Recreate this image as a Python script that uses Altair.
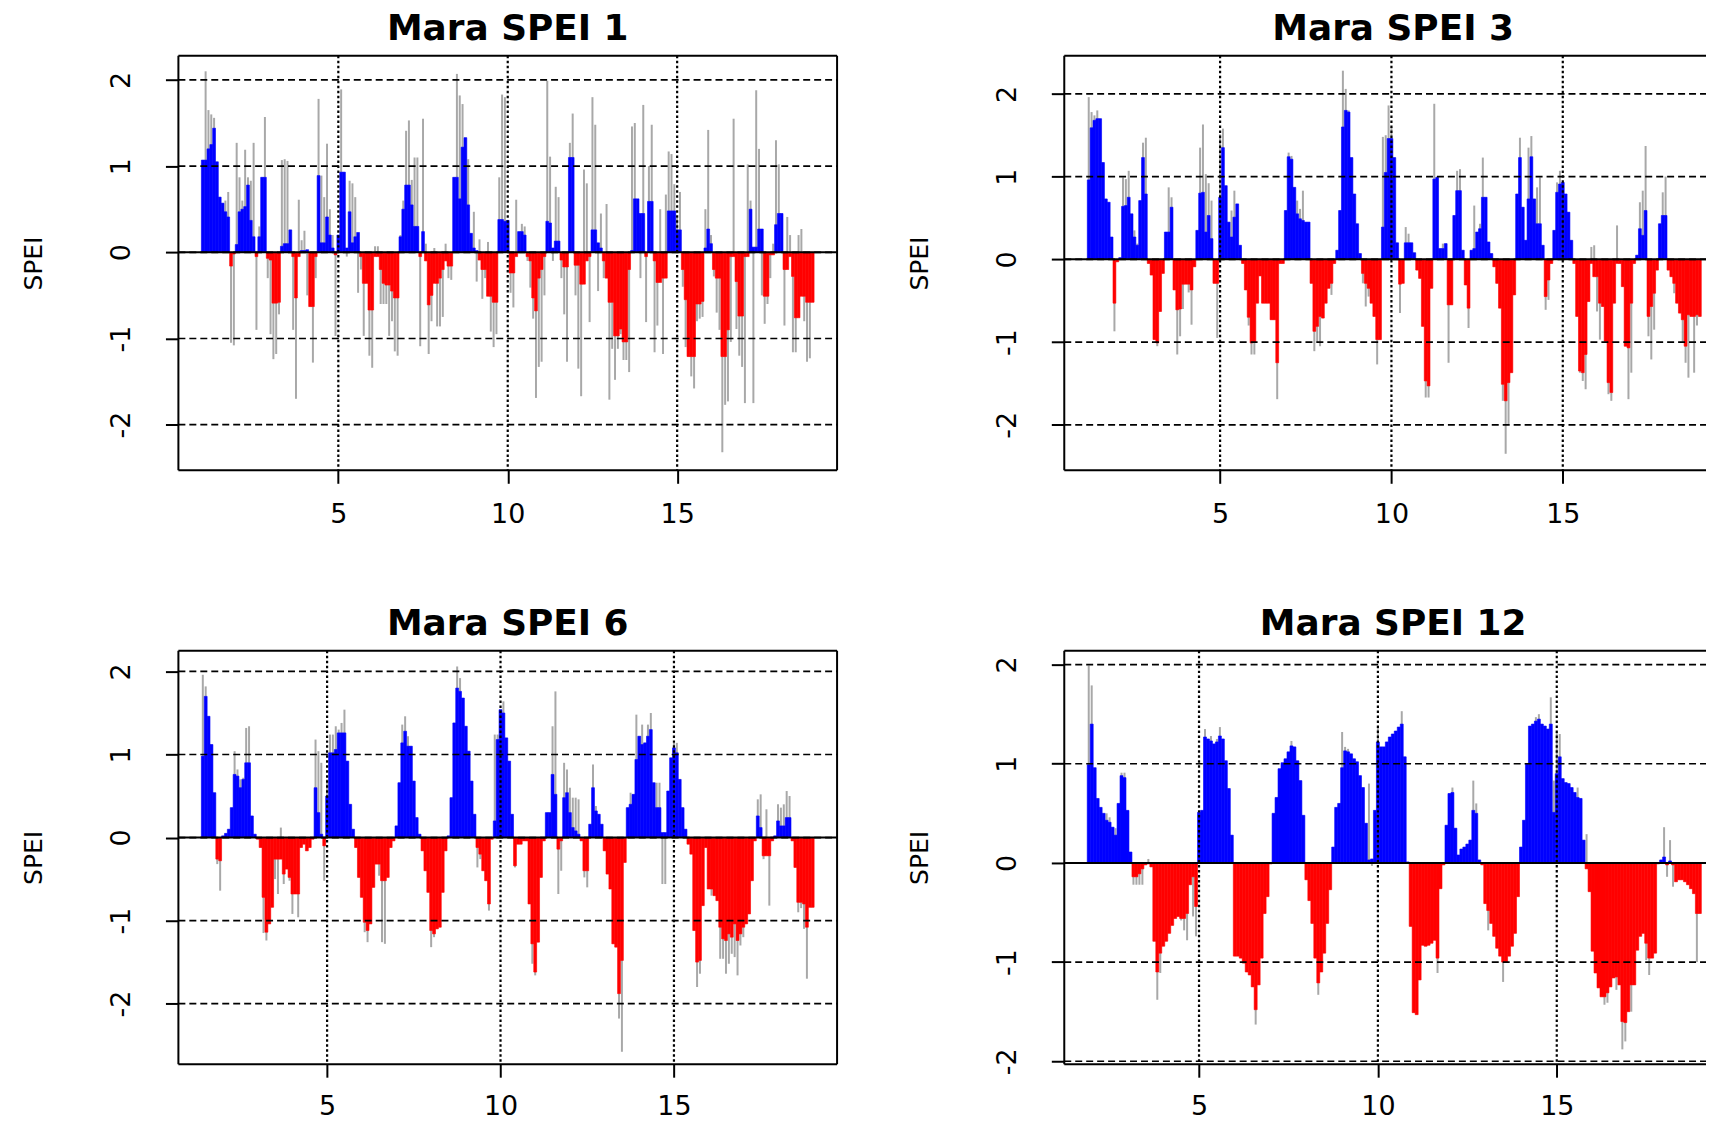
import altair as alt
import pandas as pd

X_TICKS = [5, 10, 15]
Y_TICKS = [-2, -1, 0, 1, 2]
TITLES = ["Mara SPEI 1", "Mara SPEI 3", "Mara SPEI 6", "Mara SPEI 12"]
# first month index of each series (months after t = 1.0)
STARTS = [0, 2, 5, 11]

spei1_bar = [
    1.07, 1.07, 1.2, 1.25, 1.44, 1.05, 0.64, 0.57, 0.47, 0.41, -0.16, -0.02,
    0.09, 0.47, 0.5, 0.53, 0.78, 0.37, 0.18, -0.05, 0.18, 0.87, 0.87, -0.07,
    -0.09, -0.59, -0.59, -0.58, 0.07, 0.1, 0.1, 0.26, -0.05, -0.53, -0.05, 0.02,
    0.02, 0.03, -0.63, -0.63, -0.05, 0.89, 0.11, 0.11, 0.41, 0.2, 0.05, -0.03,
    0.2, 0.93, 0.93, 0.05, 0.47, 0.11, 0.18, 0.23, -0.05, -0.36, -0.36, -0.67,
    -0.67, -0.05, -0.05, -0.2, -0.36, -0.38, -0.38, -0.45, -0.53, -0.53, 0.18, 0.5,
    0.78, 0.78, 0.55, 0.3, 0.3, -0.05, 0.24, -0.1, -0.61, -0.5, -0.36, -0.36,
    -0.3, -0.2, -0.1, -0.16, -0.16, 0.87, 0.87, 0.62, 1.22, 1.33, 0.55, 0.22,
    0.05, 0.02, -0.09, -0.2, -0.2, -0.51, -0.51, -0.58, -0.58, 0.38, 0.38, 0.36,
    0.37, -0.24, -0.24, -0.05, 0.24, 0.24, 0.2, -0.05, -0.1, -0.53, -0.68, -0.3,
    -0.2, -0.05, 0.36, 0.34, 0.05, 0.13, 0.13, -0.09, -0.17, -0.17, 1.1, 1.1,
    -0.15, -0.15, -0.37, -0.37, -0.1, -0.05, 0.26, 0.26, 0.11, 0.05, -0.1, -0.3,
    -0.58, -0.58, -0.97, -0.97, -0.89, -1.04, -1.04, -0.2, 0.02, 0.62, 0.62, 0.45,
    0.45, -0.05, 0.59, 0.59, -0.1, -0.35, -0.35, -0.3, -0.3, 0.48, 0.48, 0.48,
    0.26, 0.26, -0.2, -0.55, -1.21, -1.21, -1.21, -0.6, -0.6, -0.57, 0.05, 0.27,
    0.1, -0.2, -0.3, -0.3, -1.21, -1.21, -0.9, -0.05, -0.05, -0.34, -0.74, -0.74,
    -0.05, -0.05, 0.5, 0.06, 0.06, 0.27, 0.27, -0.51, -0.51, -0.03, -0.03, 0.32,
    0.45, 0.45, -0.2, -0.2, -0.05, -0.28, -0.76, -0.76, -0.51, -0.51, -0.58, -0.58,
    -0.58,
]
spei1_line = [
    1.07, 2.1, 1.65, 1.6, 1.56, 1.05, 0.64, 0.57, 0.6, 0.7, -1.05, -1.08,
    1.27, 0.87, 0.6, 1.19, 0.87, 0.83, 1.27, -0.9, 0.3, 0.87, 1.57, -0.3,
    -0.95, -1.24, -1.18, -0.72, 1.07, 1.08, 1.06, 0.26, -0.9, -1.7, 0.61, 0.14,
    0.25, -0.5, -0.63, -1.28, -0.3, 1.78, 0.89, 0.64, 1.26, 0.5, 0.2, -0.97,
    0.2, 1.89, 0.93, -0.05, 0.83, 0.8, 0.64, -0.47, -0.2, -0.97, -0.36, -1.2,
    -1.34, 0.07, 0.07, -0.6, -0.6, -0.6, -0.97, -0.8, -1.15, -1.2, 0.2, 0.6,
    1.41, 1.53, 0.84, 1.1, 1.1, -1.09, 1.55, 0.1, -1.18, -0.8, 0.05, -0.86,
    -0.86, -0.75, 0.1, -0.3, -0.32, 0.87, 2.07, 1.82, 1.72, 1.33, 1.08, 0.22,
    0.47, -0.34, 0.15, -0.54, -0.3, 0.12, -0.92, -1.1, -0.95, 0.87, 1.83, 1.8,
    0.37, -0.47, -0.64, 0.61, 0.24, 0.33, 0.3, -0.1, -0.41, -0.77, -1.69, -1.33,
    -1.27, -0.5, 1.99, 1.11, -0.1, 0.76, 0.64, -0.3, -0.72, -1.27, 1.27, 1.61,
    -0.5, -1.35, -1.67, 0.96, 0.8, -0.81, 1.8, 1.48, -0.45, 0.45, -0.3, 0.56,
    -1.71, -1.12, -1.48, -1.12, -0.95, -1.25, -1.25, -1.39, 1.46, 1.5, 0.3, -0.3,
    1.71, -0.81, 1.0, 1.48, -1.16, -0.85, 0.5, -1.18, 0.67, 1.17, 1.14, 0.79,
    0.4, 0.7, -0.4, -1.1, -1.21, -1.44, -1.58, -0.8, -0.77, -0.75, 0.5, 1.42,
    0.2, -0.28, -0.7, -0.9, -2.32, -1.77, -1.73, -1.04, 1.55, -0.89, -1.2, -1.33,
    -1.75, 1.02, 0.6, -1.75, 1.88, 1.2, -0.5, -0.83, -0.6, -0.3, 0.1, 1.3,
    1.02, 0.45, -0.85, 0.41, 0.2, -1.16, -1.16, 0.2, 0.27, -0.8, -1.27, -1.23,
    -0.58,
]

spei3_bar = [
    0.96, 1.59, 1.68, 1.7, 1.7, 1.17, 0.73, 0.69, 0.27, -0.53,
    -0.03, 0.02, 0.64, 0.65, 0.75, 0.55, 0.27, 0.17, 0.71, 1.23, 0.79, -0.05,
    -0.19, -0.97, -1.01, -0.63, -0.17, 0.33, 0.33, 0.63, -0.37, -0.61, -0.6, -0.3,
    -0.3, -0.3, -0.37, -0.09, 0.35, 0.8, 0.81, 0.33, 0.53, 0.25, -0.29, -0.29,
    0.75, 1.35, 0.89, 0.45, 0.27, 0.51, 0.67, 0.17, -0.05, -0.37, -0.7, -1.01,
    -1.0, -0.53, -0.2, -0.53, -0.53, -0.53, -0.73, -0.73, -1.25, -0.05, -0.05, 0.59,
    1.24, 1.21, 0.87, 0.55, 0.49, 0.47, 0.45, 0.45, -0.29, -0.87, -0.81, -0.69,
    -0.71, -0.53, -0.35, -0.29, -0.05, 0.11, 0.59, 1.6, 1.8, 1.78, 1.23, 0.79,
    0.43, 0.07, -0.17, -0.29, -0.35, -0.53, -0.69, -0.97, -0.97, 0.39, 1.05, 1.46,
    1.46, 1.23, 0.2, -0.3, -0.29, 0.2, 0.2, 0.2, 0.08, -0.13, -0.23, -0.81,
    -1.47, -1.53, -0.35, 0.97, 0.99, 0.13, 0.13, 0.19, -0.55, -0.55, 0.53, 0.83,
    0.83, 0.11, -0.31, -0.59, 0.11, 0.13, 0.33, 0.37, 0.75, 0.75, 0.21, 0.07,
    -0.09, -0.29, -0.59, -1.51, -1.71, -1.49, -1.37, -0.43, 0.79, 1.23, 0.63, 0.23,
    0.73, 1.24, 0.73, 0.43, 0.43, 0.17, -0.45, -0.25, -0.05, 0.35, 0.81, 0.91,
    0.93, 0.79, 0.57, 0.23, -0.05, -0.69, -1.35, -1.37, -1.15, -0.51, -0.05, -0.21,
    -0.21, -0.53, -0.57, -0.99, -1.49, -1.61, -0.53, -0.05, -0.05, -0.33, -1.05, -1.07,
    -0.53, -0.05, 0.05, 0.37, 0.29, 0.59, -0.69, -0.57, -0.41, -0.13, 0.43, 0.53,
    0.53, -0.13, -0.21, -0.29, -0.53, -0.65, -0.73, -1.05, -0.67, -0.69, -0.69, -0.67,
    -0.69,
]
spei3_line = [
    1.96, 1.78, 1.74, 1.8, 1.7, 1.17, 0.73, 0.69, 0.27, -0.87,
    -0.03, 0.02, 0.99, 0.97, 1.07, 0.55, 0.35, 0.19, 0.71, 1.41, 1.47, -0.05,
    -0.19, -0.97, -1.05, -0.63, -0.17, 0.33, 0.87, 0.75, -0.37, -1.15, -0.93, -0.6,
    -0.3, -0.4, -0.79, -0.09, 0.35, 1.35, 1.63, 1.03, 0.92, 0.71, -0.29, -0.95,
    1.51, 1.58, 0.89, 0.41, 0.59, 0.83, 0.67, 0.17, -0.05, -0.37, -0.8, -1.15,
    -1.15, -0.53, -0.2, -0.53, -0.53, -0.53, -0.73, -0.73, -1.69, -0.05, -0.05, 0.59,
    1.29, 1.25, 0.87, 0.71, 0.61, 0.83, 0.45, 0.45, -0.29, -1.11, -1.01, -1.05,
    -0.71, -0.53, -0.35, -0.43, -0.05, 0.11, 0.59, 2.28, 2.06, 1.8, 1.23, 0.79,
    0.43, 0.07, -0.29, -0.57, -0.45, -0.53, -0.69, -1.27, -0.97, 1.48, 1.5, 1.86,
    1.6, 1.23, 0.2, -0.65, -0.29, 0.39, 0.31, 0.2, 0.08, -0.13, -0.23, -0.81,
    -1.67, -1.67, -0.35, 1.88, 1.0, 0.13, 0.19, 0.19, -1.25, -0.55, 0.53, 1.07,
    1.09, 0.11, -0.31, -0.83, 0.11, 0.65, 0.33, 0.43, 1.23, 0.75, 0.21, 0.07,
    -0.09, -0.29, -0.59, -1.71, -2.35, -1.99, -1.37, -0.43, 0.79, 1.47, 0.63, 0.23,
    1.35, 1.49, 0.73, 0.87, 0.99, 0.17, -0.61, -0.49, -0.05, 0.35, 0.93, 1.07,
    0.93, 0.79, 0.57, 0.23, -0.05, -0.69, -1.37, -1.47, -1.57, -0.51, 0.15, 0.17,
    -0.63, -0.97, -0.57, -0.99, -1.63, -1.71, -0.53, 0.41, -0.05, -0.33, -1.05, -1.69,
    -1.37, -0.05, 0.05, 0.69, 0.83, 1.37, -0.93, -1.21, -0.85, -0.13, 0.43, 0.81,
    1.0, -0.13, -0.21, -0.41, -0.53, -0.65, -1.01, -1.25, -1.43, -0.69, -1.37, -0.8,
    -0.69,
]

spei6_bar = [
    0.98, 1.7, 1.46, 1.12, 0.54, -0.26, -0.28,
    0.02, 0.05, 0.1, 0.36, 0.76, 0.74, 0.6, 0.7, 0.9, 0.9, 0.26, 0.04,
    -0.02, -0.12, -0.72, -1.14, -1.04, -0.84, -0.26, -0.26, -0.26, -0.44, -0.38, -0.48,
    -0.68, -0.68, -0.68, -0.12, -0.08, -0.16, -0.12, -0.02, 0.6, 0.3, 0.04, -0.1,
    0.5, 1.02, 1.02, 1.06, 1.26, 1.26, 1.26, 0.92, 0.4, 0.1, -0.12, -0.48,
    -0.72, -1.02, -1.12, -1.04, -0.6, -0.32, -0.32, -0.52, -0.52, -0.48, -0.12, -0.04,
    0.14, 0.66, 1.14, 1.28, 1.1, 1.1, 0.68, 0.24, 0.04, -0.16, -0.4, -0.66,
    -1.12, -1.16, -1.1, -1.08, -0.66, -0.16, 0.02, 0.48, 1.38, 1.8, 1.76, 1.68,
    1.34, 1.04, 0.68, 0.28, -0.12, -0.2, -0.4, -0.52, -0.8, -0.02, 0.2, 1.18,
    1.54, 1.5, 1.2, 0.92, 0.28, -0.34, -0.08, -0.08, -0.04, -0.04, -0.8, -1.28,
    -1.62, -1.26, -0.48, -0.04, 0.3, 0.3, 0.76, 0.52, -0.14, -0.04, 0.48, 0.54,
    0.3, 0.12, 0.08, 0.04, -0.04, -0.4, -0.4, 0.16, 0.6, 0.32, 0.28, 0.16,
    -0.16, -0.44, -0.62, -1.28, -1.32, -1.88, -1.48, -0.3, 0.36, 0.4, 0.52, 0.94,
    1.22, 1.12, 1.14, 1.22, 1.3, 0.66, 0.36, 0.36, 0.06, 0.06, 0.56, 0.96,
    1.08, 1.02, 0.7, 0.36, 0.1, -0.08, -0.2, -1.12, -1.5, -1.48, -0.82, -0.12,
    -0.62, -0.62, -0.7, -0.76, -1.08, -1.22, -1.24, -1.16, -1.2, -1.04, -1.24, -1.16,
    -1.08, -1.04, -0.92, -0.52, -0.04, 0.26, 0.12, -0.22, -0.22, -0.22, -0.04, 0.02,
    0.2, 0.14, 0.14, 0.24, 0.24, -0.04, -0.36, -0.78, -0.78, -0.8, -1.08, -0.84,
    -0.84,
]
spei6_line = [
    1.96, 1.82, 1.46, 1.12, 0.54, -0.32, -0.64,
    0.02, 0.05, 0.1, 0.36, 1.04, 0.82, 0.7, 0.72, 1.32, 1.34, 0.26, 0.04,
    -0.02, -0.12, -1.15, -1.24, -1.04, -0.84, -0.5, -0.68, 0.12, -0.56, -0.38, -0.52,
    -0.92, -0.68, -0.96, -0.12, -0.08, -0.16, -0.12, -0.02, 1.18, 1.04, 0.9, -0.52,
    0.7, 1.24, 1.24, 1.34, 1.3, 1.38, 1.54, 0.92, 0.4, 0.1, -0.12, -0.48,
    -0.72, -1.14, -1.26, -1.04, -0.6, -0.32, -0.46, -1.26, -1.28, -0.48, -0.12, -0.04,
    0.14, 0.66, 1.36, 1.46, 1.22, 1.1, 0.68, 0.24, 0.04, -0.16, -0.4, -0.66,
    -1.32, -1.2, -1.1, -1.08, -0.66, -0.16, 0.02, 0.48, 1.38, 2.06, 1.92, 1.68,
    1.34, 1.04, 0.68, 0.28, -0.36, -0.26, -0.4, -0.52, -0.88, -0.02, 1.24, 1.24,
    1.54, 1.64, 1.2, 0.92, 0.28, -0.36, -0.08, -0.08, -0.04, -0.04, -0.8, -1.52,
    -1.66, -1.26, -0.48, -0.04, 0.3, 0.3, 1.34, 1.76, -0.68, -0.4, 0.9, 0.82,
    0.6, 0.48, 0.48, 0.46, -0.04, -0.48, -0.6, 0.16, 0.88, 0.38, 0.28, 0.16,
    -0.16, -0.44, -0.62, -1.28, -1.32, -2.18, -2.58, -0.3, 0.36, 0.54, 0.52, 1.48,
    1.22, 1.36, 1.14, 1.36, 1.5, 0.66, 0.66, 0.66, -0.56, -0.56, 0.56, 0.96,
    1.14, 1.14, 0.7, 0.36, 0.1, -0.08, -0.2, -1.12, -1.8, -1.64, -0.82, -0.12,
    -0.62, -0.7, -0.7, -0.76, -1.46, -1.46, -1.64, -1.52, -1.4, -1.44, -1.66, -1.3,
    -1.2, -1.04, -0.92, -0.52, -0.04, 0.46, 0.52, -0.26, 0.34, -0.82, -0.04, 0.02,
    0.4, 0.36, 0.4, 0.56, 0.5, -0.04, -0.36, -0.9, -0.85, -1.1, -1.7, -0.84,
    -0.84,
]

spei12_bar = [
    0.99,
    1.4, 0.96, 0.65, 0.56, 0.5, 0.43, 0.41, 0.36, 0.28, 0.6, 0.88, 0.86,
    0.53, 0.11, -0.14, -0.14, -0.11, -0.06, -0.02, -0.01, -0.04, -0.79, -1.1, -0.91,
    -0.84, -0.79, -0.71, -0.63, -0.56, -0.54, -0.56, -0.56, -0.51, -0.22, -0.14, -0.44,
    0.51, 0.53, 1.27, 1.25, 1.23, 1.2, 1.22, 1.28, 1.25, 1.03, 0.75, 0.28,
    -0.94, -0.94, -0.96, -1.01, -1.1, -1.13, -1.25, -1.48, -1.23, -0.96, -0.51, -0.34,
    -0.01, 0.5, 0.66, 0.95, 1.01, 1.05, 1.12, 1.18, 1.17, 1.03, 0.83, 0.48,
    -0.17, -0.38, -0.61, -0.96, -1.21, -1.1, -0.91, -0.61, -0.27, 0.16, 0.56, 0.6,
    0.96, 1.13, 1.12, 1.1, 1.05, 1.02, 0.88, 0.76, 0.4, 0.03, 0.04, 0.53,
    1.22, 1.17, 1.17, 1.22, 1.27, 1.3, 1.33, 1.37, 1.4, 1.07, 0.01, -0.64,
    -1.51, -1.53, -1.18, -0.83, -0.84, -0.83, -0.81, -0.78, -0.96, -0.26, -0.02, 0.38,
    0.7, 0.71, 0.35, 0.08, 0.14, 0.16, 0.19, 0.23, 0.53, 0.5, 0.03, -0.02,
    -0.41, -0.48, -0.61, -0.74, -0.86, -0.94, -1.0, -1.0, -0.94, -0.84, -0.71, -0.34,
    0.16, 0.43, 1.0, 1.38, 1.4, 1.43, 1.45, 1.4, 1.38, 1.35, 1.4, 0.51,
    0.9, 1.07, 0.85, 0.81, 0.8, 0.76, 0.71, 0.66, 0.65, 0.23, -0.06, -0.29,
    -0.89, -1.11, -1.26, -1.35, -1.35, -1.31, -1.25, -1.16, -1.15, -1.23, -1.6, -1.61,
    -1.5, -1.23, -1.23, -0.88, -0.74, -0.71, -0.81, -0.96, -0.96, -0.91, -0.01, 0.03,
    0.06, -0.02, 0.02, -0.02, -0.19, -0.17, -0.17, -0.19, -0.22, -0.26, -0.31, -0.51,
    -0.51,
]
spei12_line = [
    1.99,
    1.79, 0.96, 0.65, 0.56, 0.5, 0.5, 0.46, 0.36, 0.35, 0.6, 0.91, 0.91,
    0.53, 0.11, -0.22, -0.22, -0.22, -0.22, -0.02, 0.04, -0.04, -0.79, -1.38, -1.11,
    -0.84, -0.79, -0.71, -0.63, -0.56, -0.54, -0.58, -0.68, -0.78, -0.22, -0.54, -0.74,
    0.51, 0.53, 1.35, 1.25, 1.28, 1.2, 1.25, 1.37, 1.25, 1.03, 0.75, 0.28,
    -0.94, -0.94, -0.96, -1.01, -1.1, -1.13, -1.25, -1.63, -1.23, -0.96, -0.51, -0.34,
    -0.01, 0.5, 0.66, 0.95, 1.01, 1.05, 1.12, 1.23, 1.17, 1.03, 0.83, 0.48,
    -0.17, -0.38, -0.61, -0.96, -1.33, -1.1, -0.91, -0.61, -0.27, 0.16, 0.56, 0.6,
    1.32, 1.17, 1.15, 1.1, 1.05, 1.02, 0.88, 0.76, 0.4, 0.8, -0.03, 0.53,
    1.37, 1.17, 1.17, 1.22, 1.27, 1.3, 1.33, 1.37, 1.53, 1.07, 0.01, -0.64,
    -1.51, -1.53, -1.18, -0.83, -0.84, -0.83, -0.81, -0.78, -1.11, -0.26, -0.02, 0.38,
    0.7, 0.76, 0.35, 0.08, 0.14, 0.16, 0.19, 0.23, 0.83, 0.6, 0.03, -0.02,
    -0.41, -0.68, -0.61, -0.74, -0.86, -0.94, -1.2, -1.0, -0.94, -0.84, -0.71, -0.34,
    0.16, 0.43, 1.0, 1.38, 1.4, 1.47, 1.5, 1.4, 1.38, 1.35, 1.67, 0.83,
    1.32, 1.3, 0.85, 0.81, 0.8, 0.76, 0.71, 0.76, 0.65, 0.23, 0.29, -0.29,
    -0.89, -1.11, -1.26, -1.35, -1.43, -1.41, -1.25, -1.16, -1.28, -1.23, -1.88, -1.8,
    -1.5, -1.5, -1.23, -0.88, -0.74, -0.71, -0.98, -1.13, -0.96, -0.91, -0.01, 0.03,
    0.36, -0.14, 0.23, -0.24, -0.19, -0.17, -0.17, -0.19, -0.22, -0.26, -0.31, -1.0,
    -0.51,
]

BLUE = "#0000FF"
RED = "#FF0000"
GREY = "#A8A8A8"
FONT = "DejaVu Sans"

# layout (pixels)
LEFT_W = 661
RIGHT_W = 644
ROW1_H = 416
ROW2_H = 415

X_DOMAINS = [[0.28, 19.72], [0.453, 0.453 + RIGHT_W / 34.39],
             [0.713, 19.703], [1.233, 1.233 + RIGHT_W / 35.9]]
Y_DOMAINS = [[-2.53, 2.28], [-2.55, 2.46], [-2.73, 2.25], [-2.03, 2.14]]
X_LABEL_PAD = [31, 31, 29, 29]


def series_df(start, bar, line):
    t = [1 + (start + i) / 12 for i in range(len(bar))]
    df = pd.DataFrame({"t": t, "v": bar, "g": line})
    df["t0"] = df["t"] - 1 / 24
    df["t1"] = df["t"] + 1 / 24
    df["z"] = 0.0
    df["sign"] = ["pos" if v >= 0 else "neg" for v in bar]
    return df


def panel(title, df, xdom, ydom, w, h, right_border, title_dx, xpad):
    xs = alt.Scale(domain=xdom, nice=False, zero=False)
    ys = alt.Scale(domain=ydom, nice=False, zero=False)
    xaxis = alt.Axis(values=X_TICKS, title=None, grid=False, domain=False,
                     tickSize=13, tickWidth=2, tickColor="black",
                     labelFont=FONT, labelFontSize=27, labelColor="black",
                     labelPadding=xpad, labelBaseline="middle", labelAngle=0,
                     labelFlush=False, labelOverlap=False)
    yaxis = alt.Axis(values=Y_TICKS, title="SPEI", grid=False, domain=False,
                     tickSize=13, tickWidth=2, tickColor="black",
                     labelFont=FONT, labelFontSize=27, labelColor="black",
                     labelAngle=270, labelAlign="center", labelBaseline="middle",
                     labelPadding=44, labelFlush=False, labelOverlap=False,
                     labelExpr="'' + datum.value",
                     titleFont=FONT, titleFontSize=25, titleFontWeight="normal",
                     titleColor="black", titleAngle=270, titleAlign="center",
                     titleBaseline="middle", titleX=-145, titleY=h / 2)

    color_scale = alt.Scale(domain=["pos", "neg"], range=[BLUE, RED])
    grey = alt.Chart(df).mark_rule(color=GREY, strokeWidth=2).encode(
        x=alt.X("t:Q", scale=xs, axis=xaxis),
        y=alt.Y("g:Q", scale=ys, axis=yaxis),
        y2="z:Q",
    )
    bars = alt.Chart(df).mark_rect(strokeWidth=0.6).encode(
        x=alt.X("t0:Q", scale=xs, axis=xaxis),
        x2="t1:Q",
        y=alt.Y("v:Q", scale=ys, axis=yaxis),
        y2="z:Q",
        color=alt.Color("sign:N", scale=color_scale, legend=None),
        stroke=alt.Stroke("sign:N", scale=color_scale, legend=None),
    )
    hgrid = alt.Chart(pd.DataFrame({"y": Y_TICKS})).mark_rule(
        color="black", strokeWidth=1.7, strokeDash=[7, 4]).encode(
        y=alt.Y("y:Q", scale=ys, axis=yaxis), x=alt.value(0), x2=alt.value(w))
    vgrid = alt.Chart(pd.DataFrame({"x": X_TICKS})).mark_rule(
        color="black", strokeWidth=2.2, strokeDash=[2.5, 2.5]).encode(
        x=alt.X("x:Q", scale=xs, axis=xaxis), y=alt.value(0), y2=alt.value(h))
    zero = alt.Chart(pd.DataFrame({"y": [0]})).mark_rule(
        color="black", strokeWidth=2).encode(
        y=alt.Y("y:Q", scale=ys, axis=yaxis), x=alt.value(0), x2=alt.value(w))

    one = pd.DataFrame({"d": [0]})
    fr = dict(color="black", strokeWidth=2)
    left = alt.Chart(one).mark_rule(**fr).encode(x=alt.value(0), y=alt.value(0), y2=alt.value(h))
    top = alt.Chart(one).mark_rule(**fr).encode(y=alt.value(0), x=alt.value(0), x2=alt.value(w))
    bottom = alt.Chart(one).mark_rule(**fr).encode(y=alt.value(h), x=alt.value(0), x2=alt.value(w))
    layers = [grey, bars, hgrid, vgrid, zero, left, top, bottom]
    if right_border:
        right = alt.Chart(one).mark_rule(**fr).encode(x=alt.value(w), y=alt.value(0), y2=alt.value(h))
        layers.append(right)

    return alt.layer(*layers).properties(
        width=w, height=h,
        title=alt.TitleParams(text=title, font=FONT, fontSize=36, fontWeight="bold",
                              color="black", anchor="middle", frame="group",
                              offset=7, dx=title_dx),
    )


series = [(spei1_bar, spei1_line), (spei3_bar, spei3_line),
          (spei6_bar, spei6_line), (spei12_bar, spei12_line)]
widths = [LEFT_W, RIGHT_W, LEFT_W, RIGHT_W]
heights = [ROW1_H, ROW1_H, ROW2_H, ROW2_H]
panels = []
for i in range(4):
    df = series_df(STARTS[i], *series[i])
    panels.append(panel(TITLES[i], df, X_DOMAINS[i], Y_DOMAINS[i], widths[i], heights[i],
                        right_border=(i % 2 == 0), title_dx=(0 if i % 2 == 0 else 8),
                        xpad=X_LABEL_PAD[i]))

chart = alt.concat(*panels, columns=2,
                   spacing=alt.RowColnumber(row=181, column=228),
                   bounds="flush").properties(
    padding={"left": 14, "top": 0, "right": 0, "bottom": 0}
).configure_view(stroke=None)

chart.save("out.html", embed_options={"renderer": "svg", "actions": False})
